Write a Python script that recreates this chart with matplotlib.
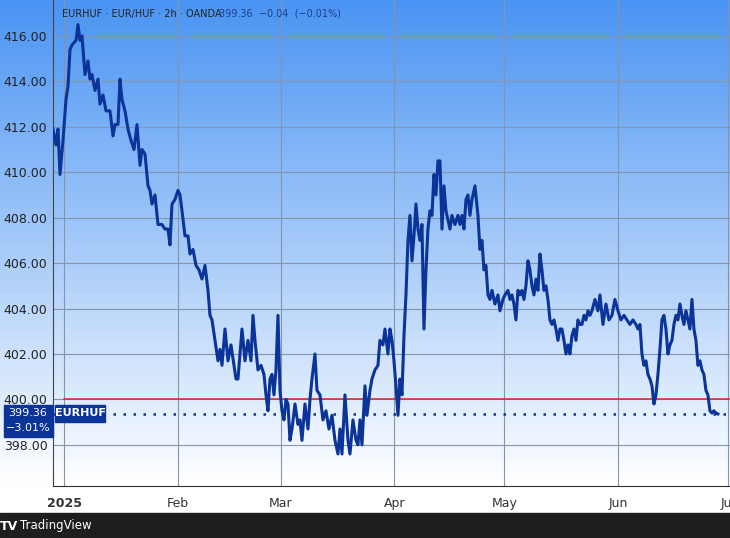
import matplotlib
matplotlib.use("Agg")
import matplotlib.pyplot as plt
import numpy as np
import pandas as pd

values = [411.9,411.2,411.9,409.9,411.4,413.2,413.8,415.4,415.6,415.8,416.5,415.8,416.0,414.3,414.9,414.1,414.3,413.6,414.1,413.0,413.4,412.7,412.7,411.6,412.1,412.1,414.1,413.2,412.7,411.9,411.4,411.0,412.1,410.3,411.0,410.8,409.4,409.2,408.6,409.0,407.7,407.7,407.5,407.5,406.8,408.6,408.8,409.2,409.0,408.3,407.2,407.2,406.4,406.6,405.9,405.7,405.3,405.9,404.8,403.7,403.5,402.6,401.7,402.2,401.5,403.1,401.7,402.4,401.5,400.9,400.9,402.0,403.1,401.7,402.6,401.7,403.7,402.6,401.3,401.5,401.1,400.2,399.5,400.9,401.1,400.2,401.3,403.7,400.4,399.5,399.1,400.0,399.8,398.2,398.7,399.8,398.9,399.1,398.2,399.8,398.7,400.0,400.9,402.0,400.4,400.2,399.1,399.5,398.7,399.3,398.2,397.6,398.7,397.6,400.2,398.2,397.6,399.1,398.2,398.0,399.1,398.0,400.6,399.3,400.4,400.9,401.3,401.5,402.6,402.4,403.1,402.0,403.1,402.6,401.7,400.6,399.3,400.9,400.2,402.8,404.6,407.0,408.1,406.1,407.2,408.6,407.5,407.0,407.7,403.1,405.7,407.5,408.3,408.1,409.9,409.0,410.5,410.5,407.5,409.4,408.3,407.9,407.5,408.1,407.7,408.1,407.7,408.1,407.5,408.8,409.0,408.1,408.8,409.4,408.1,406.6,407.0,405.7,405.9,404.6,404.4,404.8,404.2,404.6,403.9,404.4,404.6,404.8,404.4,404.6,404.2,403.5,404.8,404.6,404.8,404.4,405.0,406.1,405.7,405.0,404.6,405.3,404.8,406.4,405.7,404.8,405.0,404.4,403.5,403.3,403.5,403.1,402.6,403.1,403.1,402.6,402.0,402.4,402.0,402.8,403.1,402.6,403.5,403.3,403.3,403.7,403.5,403.9,403.7,403.9,404.4,403.9,404.6,403.3,404.2,403.5,403.7,404.4,403.9,403.5,403.7,403.5,403.3,403.5,403.3,403.1,403.3,402.0,401.5,401.7,401.1,400.9,400.6,399.8,400.2,401.1,402.2,403.5,403.7,403.1,402.0,402.4,402.6,403.3,403.7,403.5,404.2,403.7,403.3,403.9,403.5,403.1,404.4,403.1,402.6,401.5,401.7,401.3,401.1,400.4,400.2,399.5,399.4,399.5,399.4,399.36]
# observation time index, in steps of ~6.5 hours from the first bar
obs_index = [0,3,5,7,10,13,15,17,19,23,25,27,29,32,35,37,39,42,45,47,50,53,57,60,62,65,67,69,72,75,78,81,84,87,89,92,95,97,99,102,105,109,112,115,117,119,122,125,127,129,132,135,137,140,143,146,149,152,155,157,159,162,165,167,169,172,175,178,181,183,185,187,189,192,195,198,200,202,205,208,211,213,215,217,219,221,223,225,227,229,231,233,235,237,239,242,245,247,249,252,255,257,259,262,264,267,270,273,276,279,282,285,287,289,292,295,297,300,303,305,307,309,312,314,317,319,322,325,327,330,332,335,337,339,341,343,345,347,349,351,353,355,357,359,361,363,365,367,369,371,373,375,377,379,381,383,385,387,389,391,393,395,397,399,402,405,407,409,411,413,415,417,419,422,425,427,429,431,433,435,437,439,442,445,447,450,452,455,457,459,461,463,465,467,469,471,473,475,477,479,481,483,485,487,489,491,493,495,497,499,501,503,505,507,509,511,513,515,517,519,521,523,525,527,529,531,533,535,537,539,542,545,547,550,553,556,559,562,565,568,571,574,577,580,583,585,587,589,591,593,595,597,599,601,603,605,607,609,611,613,615,617,619,621,623,625,627,629,631,633,635,637,639,641,643,645,647,649,651,653,655,657,659,661,663,665]
start_time = "2024-12-29 00:00"
yticks = [398, 400, 402, 404, 406, 408, 410, 412, 414, 416]
month_ticks = ["2025-01-01","2025-02-01","2025-03-01","2025-04-01","2025-05-01","2025-06-01","2025-07-01"]
month_labels = ["2025","Feb","Mar","Apr","May","Jun","Jul"]
last_price, ref_level = 399.36, 400.0

n = min(len(values), len(obs_index))
dates = pd.Timestamp(start_time) + pd.to_timedelta(np.array(obs_index[:n]) * 6.54, unit="h")
vals = values[:n]

W, H = 730, 538
fig = plt.figure(figsize=(W/100, H/100), dpi=100)
fig.patch.set_facecolor("white")

bg = fig.add_axes([0, 52/H, 1, 486/H])
grad = np.linspace(0, 1, 256).reshape(-1, 1)
top = np.array([0x4a, 0x94, 0xf3]) / 255
bot = np.array([1.0, 1.0, 1.0])
img = top[None, None, :] * (1 - grad[..., None]) + bot[None, None, :] * grad[..., None]
bg.imshow(img, aspect="auto", extent=[0, 1, 0, 1])
bg.axis("off")

ax = fig.add_axes([53/W, 52/H, 677/W, 486/H])
ax.patch.set_alpha(0)
ax.plot(dates, vals, color="#0b3499", lw=2.2, zorder=3)
ax.set_ylim(396.19, 417.58)
ax.set_xlim(pd.Timestamp("2024-12-29"), pd.Timestamp("2025-07-01 12:00"))
ax.set_yticks(yticks)
ax.set_yticklabels([f"{t:.2f}" for t in yticks], fontsize=9, color="#222")
ax.set_xticks(pd.to_datetime(month_ticks))
ax.set_xticklabels(month_labels, fontsize=9, color="#333")
for lab in ax.get_xticklabels():
    if lab.get_text() == "2025":
        lab.set_fontweight("bold")
ax.tick_params(length=0, pad=4)
ax.tick_params(axis="x", pad=8)
ax.grid(True, color="#8594aa", lw=0.8, zorder=1)
for s in ["top", "right"]:
    ax.spines[s].set_visible(False)
ax.spines["left"].set_color("#444")
ax.spines["bottom"].set_color("#333")
ax.axhline(ref_level, xmin=(64-53)/677, color="#e0303a", lw=1.2, zorder=2)
ax.axhline(last_price, color="#0b3499", lw=1.8, ls=(0, (1, 3)), zorder=2)

fig.text(62/W, 1-14/H, "EURHUF · EUR/HUF · 2h · OANDA", fontsize=7, color="#222", va="center")
fig.text(219/W, 1-14/H, "399.36  −0.04  (−0.01%)", fontsize=7, color="#1d3e8a", va="center")

fig.patches.append(plt.Rectangle((4/W, 1-437/H), 49/W, 32/H, transform=fig.transFigure,
                                 color="#0b3499", zorder=5))
fig.text(28/W, 1-413/H, "399.36", fontsize=8, color="white", ha="center", va="center", zorder=6)
fig.text(28/W, 1-428/H, "−3.01%", fontsize=8, color="white", ha="center", va="center", zorder=6)
fig.patches.append(plt.Rectangle((55/W, 1-422/H), 50/W, 17/H, transform=fig.transFigure,
                                 color="#0b3499", zorder=5))
fig.text(80/W, 1-413.5/H, "EURHUF", fontsize=8, color="white", ha="center", va="center", zorder=6, fontweight="bold")

fig.patches.append(plt.Rectangle((0, 0), 1, 25/H, transform=fig.transFigure, color="#1e1e1e", zorder=5))
fig.text(0.0, 12/H, "TV", fontsize=9, color="white", fontweight="bold", va="center", zorder=6)
fig.text(20/W, 12/H, "TradingView", fontsize=8.5, color="white", va="center", zorder=6)

fig.savefig("out.png", dpi=100)
